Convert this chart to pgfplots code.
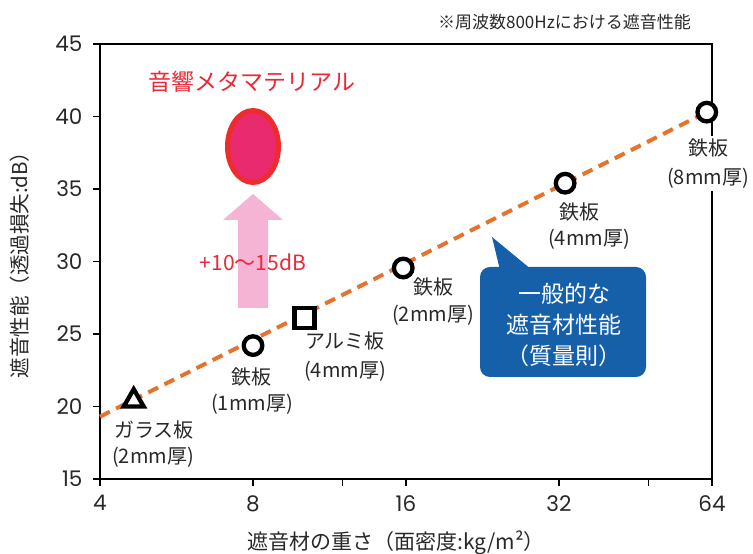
\documentclass[border=0pt]{standalone}
\usepackage{fontspec}
\setmainfont{Noto Sans CJK JP}
\newfontfamily\numfont{Poppins}
\usepackage{pgfplots}
\pgfplotsset{compat=1.18}
\definecolor{dashorange}{RGB}{226,116,48}
\definecolor{txt}{RGB}{40,40,40}
\definecolor{redtxt}{RGB}{234,40,56}
\definecolor{ellfill}{RGB}{234,42,110}
\definecolor{ellborder}{RGB}{238,44,44}
\definecolor{arrowpink}{RGB}{246,180,212}
\definecolor{calloutblue}{RGB}{22,96,170}
\begin{document}
\begin{tikzpicture}[x=1pt,y=1pt]
\path[use as bounding box] (0,0) rectangle (753,554);
% arrow and ellipse (behind plot)
\fill[arrowpink] (253,360) -- (283,334) -- (268,334) -- (268,246) -- (238,246) -- (238,334) -- (223,334) -- cycle;
\draw[line width=5pt, draw=ellborder, fill=ellfill] (253,407.5) ellipse [x radius=25.5pt, y radius=36pt];
% callout
\fill[calloutblue, rounded corners=10pt] (480,177) rectangle (646,287);
\fill[calloutblue] (492,317) -- (532,284) -- (500,284) -- cycle;
\begin{axis}[
  at={(100pt,75pt)}, anchor=south west,
  width=612pt, height=435pt, scale only axis,
  xmode=log, log basis x=2,
  xmin=4, xmax=64, ymin=15, ymax=45,
  xtick={4,8,16,32,64}, xticklabels={4,8,16,32,64},
  extra x ticks={12,48}, extra x tick labels={},
  ytick={15,20,25,30,35,40,45},
  tick pos=left, tick align=outside,
  major tick length=7pt,
  axis line style={line width=1.5pt, black},
  tick style={line width=1.5pt, black},
  ticklabel style={font=\numfont\fontsize{21.5}{21.5}\selectfont, text=txt},
  yticklabel style={xshift=-7pt},
  xticklabel style={yshift=-6pt},
  /pgf/number format/assume math mode=true,
  clip=false,
]
\addplot[dashorange, line width=4pt, dash pattern=on 11pt off 7pt] coordinates {(4,19.3) (62.5,40.3)};
\addplot[only marks, mark=*, mark size=9.3pt, mark options={fill=white, draw=black, line width=4.3pt}]
  coordinates {(8,24.2) (15.8,29.55) (32.9,35.4) (62.5,40.3)};
\addplot[only marks, mark=square*, mark size=10pt, mark options={fill=white, draw=black, line width=4.3pt, line join=miter}]
  coordinates {(10.1,26.1)};
\addplot[only marks, mark=triangle*, mark size=11.5pt, mark options={fill=white, draw=black, line width=4.3pt, line join=miter}]
  coordinates {(4.66,20.4)};
\end{axis}
% callout text
\node[text=white, font=\fontsize{23}{23}\selectfont] at (564,260) {一般的な};
\node[text=white, font=\fontsize{23}{23}\selectfont] at (564,229) {遮音材性能};
\node[text=white, font=\fontsize{23}{23}\selectfont] at (564,198) {（質量則）};
% red texts
\node[text=redtxt, font=\fontsize{23}{23}\selectfont] at (252,472) {音響メタマテリアル};
\node[text=redtxt, font=\fontsize{21}{21}\selectfont] at (253,292) {+10〜15dB};
% title
\node[text=txt, font=\fontsize{17}{17}\selectfont] at (564.5,532) {※周波数800Hzにおける遮音性能};
% data labels
\begin{scope}[every node/.style={text=txt, font=\fontsize{20}{20}\selectfont, inner sep=1pt}]
\node at (154,124) {ガラス板};
\node at (153,97) {(2mm厚)};
\node at (251,177) {鉄板};
\node at (252,150) {(1mm厚)};
\node at (345,213) {アルミ板};
\node at (345,183) {(4mm厚)};
\node at (433,267) {鉄板};
\node at (433,239) {(2mm厚)};
\node at (579,342) {鉄板};
\node at (589,315) {(4mm厚)};
\node[fill=white, align=center, inner sep=3pt, font=\fontsize{20}{29}\selectfont] at (708,390.5) {鉄板\\(8mm厚)};
\end{scope}
% axis labels
\node[text=txt, rotate=90, font=\fontsize{20.5}{20.5}\selectfont] at (20,294) {遮音性能（透過損失:dB）};
\node[text=txt, font=\fontsize{21}{21}\selectfont] at (396,11) {遮音材の重さ（面密度:kg/m²）};
\end{tikzpicture}
\end{document}
